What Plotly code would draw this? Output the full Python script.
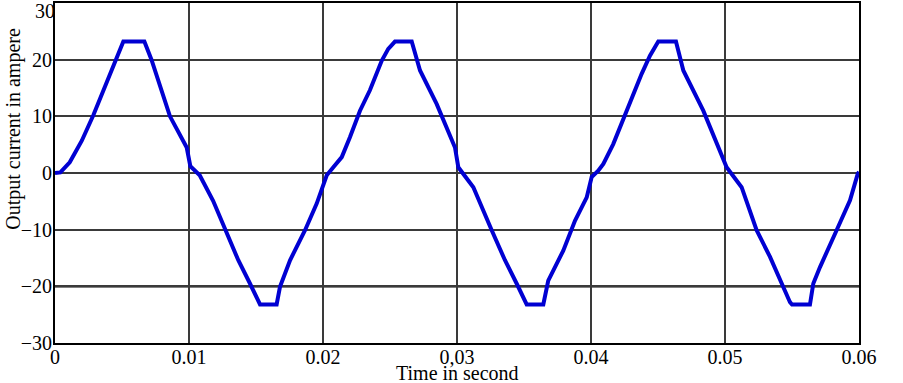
import plotly.graph_objects as go

# Time (s) and output current (A)
time_s = [0.0, 0.0004, 0.0011, 0.0020, 0.00286, 0.0036, 0.00448, 0.0051, 0.00667, 0.0072,
          0.00858, 0.00983, 0.0101, 0.0108, 0.0118, 0.0127, 0.01368, 0.01455, 0.01517, 0.0153,
          0.01654, 0.01679, 0.01754, 0.01866, 0.01953, 0.02028, 0.02077, 0.0214,
          0.02201, 0.02276, 0.0235, 0.02438, 0.02487, 0.02537, 0.02662, 0.02687, 0.02724,
          0.02848, 0.02985, 0.0301, 0.03122, 0.03259, 0.03358, 0.03445, 0.03507, 0.0352,
          0.03644, 0.03681, 0.03793, 0.03881, 0.03968, 0.04005, 0.04054, 0.04092,
          0.04166, 0.04254, 0.04378, 0.0444, 0.04502, 0.04634, 0.04689, 0.04838, 0.04987,
          0.05012, 0.05124, 0.05236, 0.05336, 0.05423, 0.05485, 0.055, 0.05634, 0.05659,
          0.05709, 0.05833, 0.05933, 0.0599, 0.06]
current_a = [0.0, 0.1, 1.9, 5.7, 10.2, 14.5, 20.0, 23.2, 23.2, 20.0,
             10.0, 4.5, 1.2, -0.4, -4.9, -10.1, -15.4, -19.5, -22.8, -23.2,
             -23.2, -20.1, -15.4, -10.1, -5.4, -0.4, 1.0, 2.8,
             6.3, 11.0, 14.6, 19.8, 21.9, 23.2, 23.2, 21.0, 18.1,
             12.2, 4.5, 1.0, -2.5, -10.1, -15.4, -19.5, -22.8, -23.2,
             -23.2, -19.0, -13.7, -8.4, -4.3, -0.7, 0.4, 1.6,
             5.1, 10.4, 17.5, 20.7, 23.2, 23.2, 18.1, 11.0, 2.8,
             1.0, -2.5, -10.1, -14.8, -19.5, -22.8, -23.2, -23.2, -19.5,
             -16.6, -10.1, -4.8, -0.2, 0.2]

x_tickvals = [0, 0.01, 0.02, 0.03, 0.04, 0.05, 0.06]
x_ticktext = ["0", "0.01", "0.02", "0,03", "0.04", "0.05", "0.06"]
y_tickvals = [-30, -20, -10, 0, 10, 20]
y_ticktext = ["\u221230", "\u221220", "\u221210", "0", "10", "20"]
y_top = 30

FONT = "Liberation Serif, Times New Roman, serif"
FS = 20

fig = go.Figure()
fig.add_trace(go.Scatter(x=time_s, y=current_a, mode="lines",
                         line=dict(color="#0000D2", width=4), showlegend=False))

fig.update_layout(
    width=903, height=383,
    margin=dict(l=55, r=44, t=3, b=40, autoexpand=False),
    paper_bgcolor="white", plot_bgcolor="white",
    font=dict(family=FONT, size=FS, color="black"),
    xaxis=dict(range=[0, 0.06], tickvals=x_tickvals, ticktext=x_ticktext,
               showgrid=True, gridcolor="#3a3a3a", gridwidth=1.5,
               showline=True, linecolor="black", linewidth=2, mirror=True,
               ticks="", zeroline=False, ticklabelstandoff=-5,
               tickfont=dict(family=FONT, size=FS)),
    yaxis=dict(range=[-30, 30], tickvals=y_tickvals, ticktext=y_ticktext,
               showgrid=True, gridcolor="#3a3a3a", gridwidth=1.5,
               showline=True, linecolor="black", linewidth=2, mirror=True,
               ticks="", zeroline=False, ticklabelstandoff=-3,
               tickfont=dict(family=FONT, size=FS)),
)

# darker -20 grid line as in the reference
fig.add_shape(type="line", xref="paper", x0=0, x1=1, yref="y", y0=-20, y1=-20,
              line=dict(color="black", width=2.2), layer="below")

# top tick label "30" (shifted down to stay inside the figure)
fig.add_annotation(text="30", xref="paper", x=0, xanchor="right", yref="y", y=y_top,
                   yanchor="top", showarrow=False, yshift=5, xshift=2,
                   font=dict(family=FONT, size=FS))

fig.add_annotation(text="Output current in ampere", xref="paper", x=0, xanchor="center",
                   xshift=-41, yref="paper", y=0.63, yanchor="middle", textangle=-90,
                   showarrow=False, font=dict(family=FONT, size=FS))
fig.add_annotation(text="Time in second", xref="paper", x=0.5, xanchor="center",
                   yref="paper", y=0, yanchor="top", yshift=-17, showarrow=False,
                   font=dict(family=FONT, size=FS))

fig.write_html("out.html", config={"displayModeBar": False},
               post_script="document.body.style.margin='0';")
